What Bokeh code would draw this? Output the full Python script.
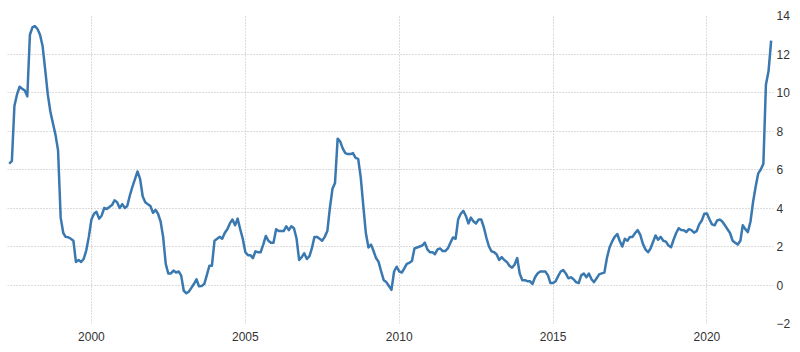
import pandas as pd
from bokeh.plotting import figure
from bokeh.models import Range1d, LinearAxis, DatetimeAxis, FixedTicker, DatetimeTickFormatter, ColumnDataSource
from bokeh.embed import file_html
from bokeh.resources import INLINE

# Monthly inflation rate (%), first value May 1997
start_month = "1997-05-01"
v1997 = [6.3, 6.45, 9.3, 9.9, 10.3, 10.2, 10.1, 9.8]
v1998 = [13.0, 13.4, 13.45, 13.3, 13.0, 12.4, 11.2, 9.9, 9.0, 8.4, 7.8, 7.0]
v1999 = [3.5, 2.7, 2.5, 2.48, 2.4, 2.3, 1.2, 1.3, 1.2, 1.35, 1.8, 2.5]
v2000 = [3.4, 3.7, 3.8, 3.45, 3.6, 4.0, 3.95, 4.05, 4.15, 4.4, 4.3, 4.0]
v2001 = [4.2, 4.0, 4.1, 4.65, 5.1, 5.5, 5.9, 5.5, 4.6, 4.3, 4.2, 4.1]
v2002 = [3.75, 3.9, 3.7, 3.3, 2.5, 1.1, 0.6, 0.6, 0.75, 0.65, 0.7, 0.5]
v2003 = [-0.3, -0.43, -0.35, -0.15, 0.05, 0.3, -0.07, -0.05, 0.05, 0.5, 1.0, 1.0]
v2004 = [2.3, 2.4, 2.5, 2.4, 2.7, 2.9, 3.2, 3.4, 3.1, 3.45, 2.9, 2.4]
v2005 = [1.7, 1.55, 1.55, 1.4, 1.75, 1.7, 1.7, 2.1, 2.55, 2.3, 2.2, 2.2]
v2006 = [2.9, 2.8, 2.8, 2.8, 3.05, 2.85, 3.05, 2.95, 2.4, 1.3, 1.45, 1.65]
v2007 = [1.35, 1.5, 1.9, 2.5, 2.5, 2.4, 2.3, 2.5, 2.8, 4.0, 5.0, 5.3]
v2008 = [7.6, 7.45, 7.1, 6.85, 6.8, 6.8, 6.85, 6.6, 6.55, 5.6, 4.1, 2.7]
v2009 = [1.95, 2.1, 1.78, 1.4, 1.2, 0.7, 0.25, 0.15, -0.05, -0.25, 0.7, 0.95]
v2010 = [0.7, 0.65, 0.85, 1.1, 1.15, 1.25, 1.9, 1.95, 2.0, 2.05, 2.2, 1.85]
v2011 = [1.7, 1.7, 1.6, 1.85, 1.9, 1.76, 1.76, 1.9, 2.2, 2.47, 2.4, 3.4]
v2012 = [3.7, 3.85, 3.6, 3.2, 3.5, 3.3, 3.2, 3.4, 3.4, 3.0, 2.45, 2.0]
v2013 = [1.75, 1.7, 1.6, 1.3, 1.45, 1.3, 1.2, 1.0, 0.9, 1.05, 1.4, 0.6]
v2014 = [0.25, 0.25, 0.2, 0.2, 0.05, 0.4, 0.6, 0.7, 0.7, 0.7, 0.5, 0.1]
v2015 = [0.1, 0.2, 0.45, 0.7, 0.78, 0.6, 0.35, 0.4, 0.3, 0.15, 0.1, 0.5]
v2016 = [0.6, 0.4, 0.6, 0.3, 0.15, 0.35, 0.55, 0.6, 0.65, 1.4, 1.95, 2.25]
v2017 = [2.5, 2.65, 2.3, 2.0, 2.4, 2.3, 2.5, 2.5, 2.7, 2.85, 2.6, 2.15]
v2018 = [1.85, 1.7, 1.88, 2.23, 2.57, 2.35, 2.5, 2.3, 2.25, 2.05, 1.96, 2.35]
v2019 = [2.7, 2.95, 2.86, 2.85, 2.75, 2.9, 2.85, 2.72, 2.8, 3.15, 3.35, 3.7]
v2020 = [3.72, 3.4, 3.15, 3.1, 3.35, 3.4, 3.3, 3.1, 2.9, 2.7, 2.3, 2.2]
v2021 = [2.1, 2.3, 3.1, 2.9, 2.75, 3.3, 4.3, 5.1, 5.8, 6.0, 6.3, 10.4]
v2022 = [11.1, 12.7]

x_tick_years = [2000, 2005, 2010, 2015, 2020]
y_ticks = [-2, 0, 2, 4, 6, 8, 10, 12, 14]

values = (v1997 + v1998 + v1999 + v2000 + v2001 + v2002 + v2003 + v2004 + v2005
          + v2006 + v2007 + v2008 + v2009 + v2010 + v2011 + v2012 + v2013 + v2014
          + v2015 + v2016 + v2017 + v2018 + v2019 + v2020 + v2021 + v2022)
dates = pd.date_range(start_month, periods=len(values), freq="MS")
src = ColumnDataSource(dict(x=dates, y=values))

x_start = pd.Timestamp("1997-04-10")
x_end = pd.Timestamp("2022-03-01")

p = figure(width=800, height=352, x_axis_type="datetime", output_backend="svg",
           toolbar_location=None, x_axis_location=None, y_axis_location=None,
           x_range=Range1d(x_start, x_end), y_range=Range1d(-2, 14),
           min_border_left=7, min_border_right=27, min_border_top=15, min_border_bottom=29)
p.outline_line_color = None
p.background_fill_color = "white"
p.border_fill_color = "white"

tick_ms = [pd.Timestamp(f"{y}-01-01").value / 1e6 for y in x_tick_years]

xa = DatetimeAxis(ticker=FixedTicker(ticks=tick_ms),
                  formatter=DatetimeTickFormatter(years="%Y", months="%Y", days="%Y"))
xa.axis_line_color = None
xa.major_tick_line_color = None
xa.minor_tick_line_color = None
xa.major_tick_out = 0
xa.major_label_text_font = "Liberation Sans"
xa.major_label_text_font_size = "12px"
xa.major_label_text_color = "#333333"
xa.major_label_standoff = 8
p.add_layout(xa, "below")

ya = LinearAxis(ticker=FixedTicker(ticks=y_ticks))
ya.axis_line_color = None
ya.major_tick_line_color = None
ya.minor_tick_line_color = None
ya.major_tick_out = 0
ya.major_label_text_font = "Liberation Sans"
ya.major_label_text_font_size = "12px"
ya.major_label_text_color = "#333333"
ya.major_label_text_align = "left"
ya.major_label_standoff = 3
p.add_layout(ya, "right")

p.xgrid.ticker = FixedTicker(ticks=tick_ms)
p.ygrid.ticker = FixedTicker(ticks=y_ticks)
for g in (p.xgrid, p.ygrid):
    g.grid_line_color = "#b8b8b8"
    g.grid_line_dash = "1 2"
    g.grid_line_width = 1

p.line("x", "y", source=src, line_color="#3a78b0", line_width=2.5, line_join="round")

open("out.html", "w").write(file_html(p, INLINE))
